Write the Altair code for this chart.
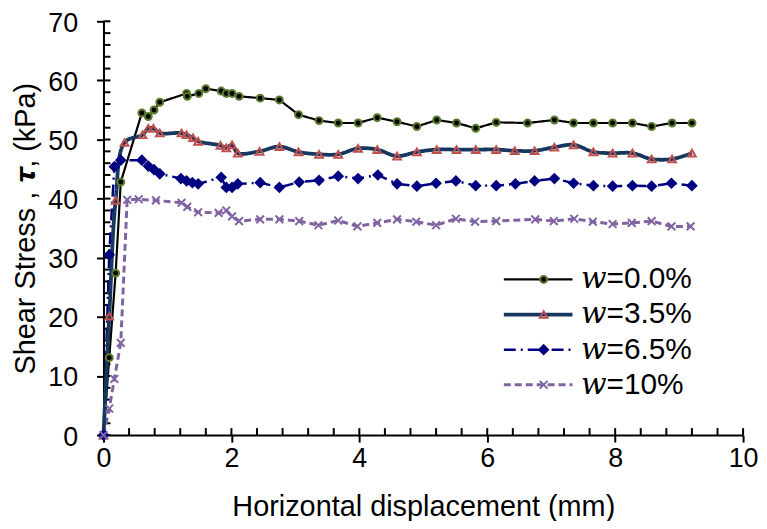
import altair as alt
import pandas as pd

series_names = ["𝑤=0.0%", "𝑤=3.5%", "𝑤=6.5%", "𝑤=10%"]
marker_names = [n + " " for n in series_names]

x_w00 = [0, 0.09, 0.19, 0.27, 0.60, 0.70, 0.79, 0.88, 1.30, 1.31, 1.49, 1.60, 1.84, 1.92, 2.01, 2.12,
         2.45, 2.75, 3.05, 3.37, 3.67, 3.98, 4.28, 4.59, 4.90, 5.21, 5.52, 5.82, 6.14, 6.63, 7.05, 7.35,
         7.66, 7.96, 8.27, 8.57, 8.89, 9.20]
y_w00 = [0, 13.1, 27.4, 42.8, 54.5, 53.9, 55.0, 56.3, 57.8, 57.3, 57.8, 58.6, 58.2, 57.8, 57.8, 57.3,
         57.0, 56.7, 54.2, 53.2, 52.8, 52.8, 53.7, 53.0, 52.2, 53.3, 52.8, 51.9, 52.9, 52.8, 53.3, 52.8,
         52.8, 52.8, 52.8, 52.2, 52.8, 52.8]

x_w35 = [0, 0.09, 0.19, 0.33, 0.61, 0.70, 0.78, 0.88, 1.22, 1.30, 1.40, 1.48, 1.83, 1.92, 2.01, 2.10,
         2.44, 2.75, 3.05, 3.37, 3.67, 3.98, 4.28, 4.59, 4.90, 5.21, 5.52, 5.82, 6.14, 6.43, 6.74, 7.05,
         7.35, 7.66, 7.96, 8.27, 8.57, 8.89, 9.20]
y_w35 = [0, 20.1, 39.7, 49.5, 50.8, 51.9, 51.9, 51.1, 51.1, 50.8, 50.3, 49.7, 49.0, 48.6, 49.1, 47.7,
         48.0, 48.8, 47.9, 47.5, 47.5, 48.5, 48.3, 47.2, 47.9, 48.3, 48.3, 48.3, 48.3, 48.1, 48.1, 48.7,
         49.1, 47.9, 47.7, 47.7, 46.7, 46.7, 47.7]

x_w65 = [0, 0.09, 0.17, 0.27, 0.60, 0.70, 0.79, 0.88, 1.21, 1.30, 1.39, 1.48, 1.84, 1.92, 2.01, 2.10,
         2.45, 2.75, 3.06, 3.37, 3.67, 3.98, 4.29, 4.59, 4.90, 5.20, 5.51, 5.82, 6.14, 6.44, 6.74, 7.05,
         7.35, 7.66, 7.96, 8.27, 8.57, 8.88, 9.20]
y_w65 = [0, 30.5, 45.4, 46.5, 46.5, 45.5, 44.9, 44.2, 43.4, 43.0, 42.7, 42.5, 43.6, 41.9, 41.9, 42.5,
         42.7, 41.9, 42.8, 43.1, 43.8, 43.4, 44.0, 42.5, 42.1, 42.6, 43.0, 42.2, 42.2, 42.5, 43.0, 43.4,
         42.6, 42.2, 42.1, 42.2, 42.1, 42.6, 42.2]

x_w10 = [0, 0.09, 0.17, 0.27, 0.37, 0.55, 0.82, 1.22, 1.31, 1.48, 1.80, 1.92, 2.01, 2.12, 2.45, 2.75,
         3.06, 3.36, 3.67, 3.97, 4.28, 4.59, 4.89, 5.20, 5.51, 5.81, 6.14, 6.75, 7.04, 7.36, 7.65, 7.96,
         8.26, 8.57, 8.88, 9.18]
y_w10 = [0, 4.5, 9.5, 15.6, 39.8, 39.9, 39.7, 39.3, 38.6, 37.7, 37.6, 38.0, 37.0, 36.2, 36.5, 36.5,
         36.2, 35.5, 36.3, 35.3, 35.9, 36.5, 36.1, 35.5, 36.6, 36.1, 36.2, 36.5, 36.2, 36.6, 36.1, 35.7,
         35.9, 36.2, 35.3, 35.3]

x_major = [0, 2, 4, 6, 8, 10]
x_minor = [round(i * 0.4, 1) for i in range(26)]
y_major = [0, 10, 20, 30, 40, 50, 60, 70]
y_minor = list(range(0, 71, 2))

line_colors = ["#000000", "#17375E", "#000080", "#8064A2"]
line_dashes = [[1, 0], [1, 0], [12, 5, 2, 5], [7, 4]]
line_widths = [2.2, 3.8, 2.5, 3]
marker_shapes = ["circle", "triangle-up", "diamond", "M-1,-1L1,1M-1,1L1,-1"]
marker_strokes = ["#5B7A2E", "#C0504D", "#000080", "#8064A2"]
marker_fills = ["#000000", "transparent", "#000080", "transparent"]
marker_sizes = [49, 60, 80, 60]

rows = []
for name, mname, xs, ys in zip(series_names, marker_names, [x_w00, x_w35, x_w65, x_w10],
                               [y_w00, y_w35, y_w65, y_w10]):
    for i, (xv, yv) in enumerate(zip(xs, ys)):
        rows.append({"x": xv, "y": yv, "s": name, "m": mname, "i": i})
df = pd.DataFrame(rows)
df_xt = pd.DataFrame({"v": x_minor})
df_yt = pd.DataFrame({"v": y_minor})

FONT = "Liberation Sans"
LEG_FONT = "Liberation Sans, DejaVu Serif"
LFS = 27
TFS = 29
GFS = 30
W, H = 643, 416

xscale = alt.Scale(domain=[0, 10], nice=False, zero=False)
yscale = alt.Scale(domain=[0, 70], nice=False, zero=False)

x_main_axis = alt.Axis(values=x_major, orient="bottom", tickSize=7, tickWidth=2, tickColor="black",
                       domainColor="black", domainWidth=2, labelFont=FONT, labelFontSize=LFS,
                       labelColor="black", labelPadding=4, labelFlush=False, labelOverlap=False,
                       title="Horizontal displacement (mm)", titleFont=FONT, titleFontSize=TFS,
                       titleFontWeight="normal", titleColor="black", titlePadding=21, grid=False)
y_main_axis = alt.Axis(values=y_major, orient="left", tickSize=7, tickWidth=2, tickColor="black",
                       domainColor="black", domainWidth=2, labelFont=FONT, labelFontSize=LFS,
                       labelColor="black", labelPadding=19, labelFlush=False, labelOverlap=False,
                       labelOffset=2,
                       title="Shear Stress , 𝝉, (kPa)", titleFont=FONT, titleFontSize=TFS,
                       titleFontWeight="normal", titleColor="black", titlePadding=7, grid=False)

line_legend = alt.Legend(title=None, orient="none", legendX=422, legendY=244.5, padding=0,
                         symbolType="M-3.45,0L3.45,0", symbolSize=400, labelOffset=28,
                         labelFont=LEG_FONT, labelFontSize=GFS, labelColor="black", rowPadding=5.3)
mark_legend = alt.Legend(title=None, orient="none", legendX=427.5, legendY=244.5, padding=0,
                         symbolStrokeWidth=2, labelExpr="' '",
                         labelFont=LEG_FONT, labelFontSize=GFS, rowPadding=5.3)

line_enc = dict(
    color=alt.Color("s:N", scale=alt.Scale(domain=series_names, range=line_colors), legend=line_legend),
    strokeDash=alt.StrokeDash("s:N", scale=alt.Scale(domain=series_names, range=line_dashes), legend=line_legend),
    strokeWidth=alt.StrokeWidth("s:N", scale=alt.Scale(type="ordinal", domain=series_names, range=line_widths),
                                legend=line_legend),
    order=alt.Order("i:Q"),
)

lines_lin = alt.Chart(df).transform_filter(alt.datum.s != series_names[1]).mark_line(
    interpolate="linear").encode(
    x=alt.X("x:Q", scale=xscale, axis=x_main_axis),
    y=alt.Y("y:Q", scale=yscale, axis=y_main_axis),
    **line_enc)

lines_smooth = alt.Chart(df).transform_filter(alt.datum.s == series_names[1]).mark_line(
    interpolate="catmull-rom").encode(
    x=alt.X("x:Q", scale=xscale, axis=None),
    y=alt.Y("y:Q", scale=yscale, axis=None),
    **line_enc)

points = alt.Chart(df).mark_point(strokeWidth=2, opacity=1).encode(
    x=alt.X("x:Q", scale=xscale, axis=None),
    y=alt.Y("y:Q", scale=yscale, axis=None),
    shape=alt.Shape("m:N", scale=alt.Scale(domain=marker_names, range=marker_shapes), legend=mark_legend),
    stroke=alt.Stroke("m:N", scale=alt.Scale(domain=marker_names, range=marker_strokes), legend=mark_legend),
    fill=alt.Fill("m:N", scale=alt.Scale(domain=marker_names, range=marker_fills), legend=mark_legend),
    size=alt.Size("m:N", scale=alt.Scale(type="ordinal", domain=marker_names, range=marker_sizes),
                  legend=mark_legend),
)

# inner (crossing) tick marks drawn at the tick values through the shared scales
x_inner = alt.Chart(df_xt).mark_rule(color="black", strokeWidth=2).encode(
    x=alt.X("v:Q", scale=xscale, axis=None),
    y=alt.value(H), y2=alt.value(H - 7))
y_inner = alt.Chart(df_yt).mark_rule(color="black", strokeWidth=2).encode(
    y=alt.Y("v:Q", scale=yscale, axis=None),
    x=alt.value(0), x2=alt.value(7))

chart = alt.layer(x_inner, y_inner, lines_lin, lines_smooth, points).resolve_axis(
    x="independent", y="independent"
).properties(
    width=W, height=H,
    autosize=alt.AutoSizeParams(type="none"),
    padding={"left": 96, "top": 12, "right": 16, "bottom": 85},
    background="white",
).configure_view(stroke=None)

chart.save("out.html", embed_options={"renderer": "svg", "actions": False})
